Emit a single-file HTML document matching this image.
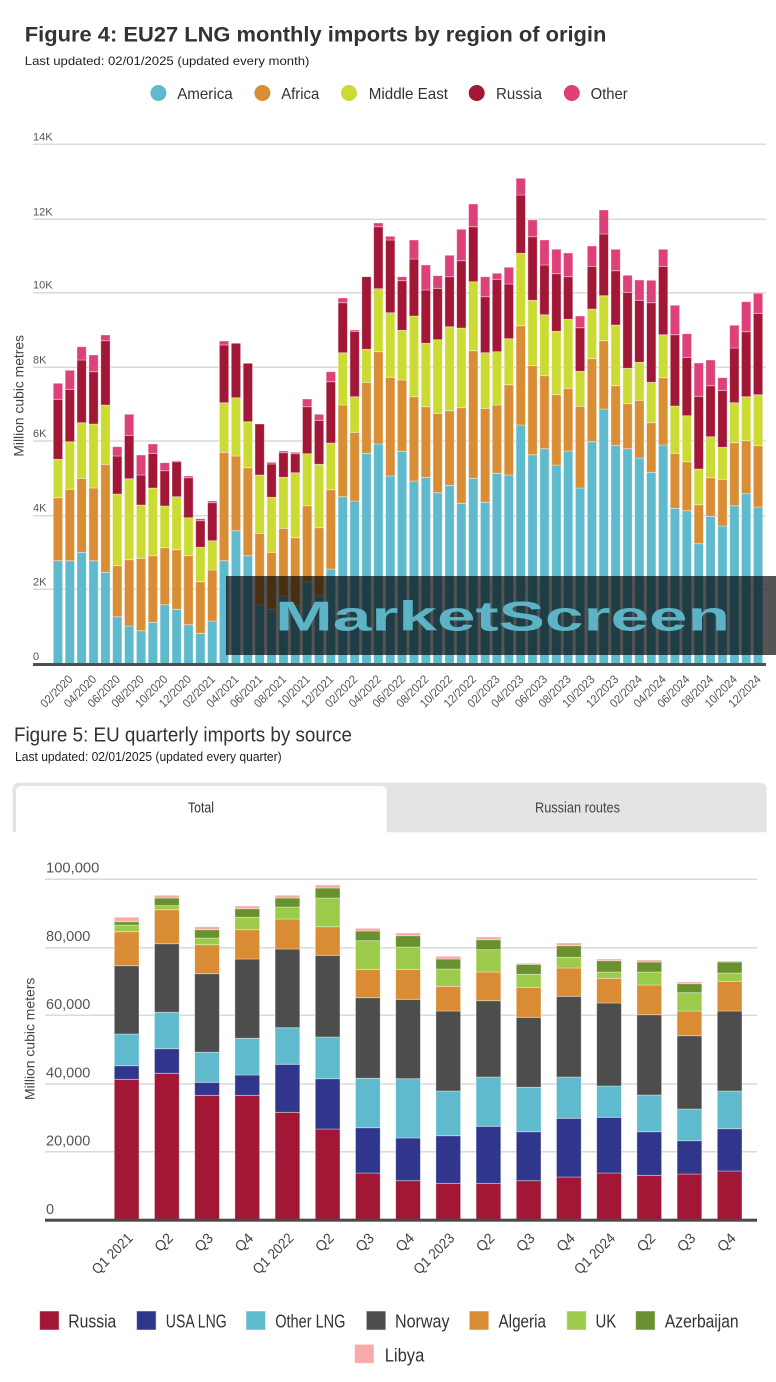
<!DOCTYPE html>
<html>
<head>
<meta charset="utf-8">
<style>
html,body{margin:0;padding:0;background:#fff;}
svg{display:block;}
text{font-family:"Liberation Sans",Arial,sans-serif;}
.yl{font-size:11px;fill:#555;}
.xl{font-size:12px;fill:#555;text-anchor:end;}
.yl2{font-size:14.5px;fill:#555;}
.xl2{font-size:14.5px;fill:#444;text-anchor:end;}
.lg{font-size:16px;fill:#333;}
.lg2{font-size:18px;fill:#333;}
.bars path{stroke:#fff;stroke-opacity:.45;stroke-width:.8;}
</style>
</head>
<body>
<svg width="776" height="1382" viewBox="0 0 776 1382" xmlns="http://www.w3.org/2000/svg">
<rect x="0" y="0" width="776" height="1382" fill="#fff"/>

<!-- ===== FIGURE 4 ===== -->
<text x="24.8" y="41.7" font-size="21.5" font-weight="bold" fill="#333" textLength="581.6" lengthAdjust="spacingAndGlyphs">Figure 4: EU27 LNG monthly imports by region of origin</text>
<text x="24.8" y="65" font-size="12" fill="#222" textLength="284.6" lengthAdjust="spacingAndGlyphs">Last updated: 02/01/2025 (updated every month)</text>

<!-- legend -->
<circle cx="158.4" cy="93" r="8" fill="#60bacd"/>
<text class="lg" x="177.2" y="99" textLength="55.5" lengthAdjust="spacingAndGlyphs">America</text>
<circle cx="262.4" cy="93" r="8" fill="#d98e35"/>
<text class="lg" x="281.2" y="99" textLength="38.1" lengthAdjust="spacingAndGlyphs">Africa</text>
<circle cx="349" cy="93" r="8" fill="#cbdb34"/>
<text class="lg" x="368.8" y="99" textLength="79.2" lengthAdjust="spacingAndGlyphs">Middle East</text>
<circle cx="476.7" cy="93" r="8" fill="#a21736"/>
<text class="lg" x="496" y="99" textLength="46" lengthAdjust="spacingAndGlyphs">Russia</text>
<circle cx="571.8" cy="93" r="8" fill="#de4079"/>
<text class="lg" x="590.6" y="99" textLength="37.1" lengthAdjust="spacingAndGlyphs">Other</text>

<!-- gridlines -->
<g stroke="#dadada" stroke-width="1.5">
<line x1="33" x2="766" y1="144.3" y2="144.3"/>
<line x1="33" x2="766" y1="219.3" y2="219.3"/>
<line x1="33" x2="766" y1="292.7" y2="292.7"/>
<line x1="33" x2="766" y1="367.3" y2="367.3"/>
<line x1="33" x2="766" y1="441" y2="441"/>
<line x1="33" x2="766" y1="515.7" y2="515.7"/>
<line x1="33" x2="766" y1="589.3" y2="589.3"/>
</g>
<text class="yl" x="33" y="140.3">14K</text>
<text class="yl" x="33" y="215.3">12K</text>
<text class="yl" x="33" y="288.7">10K</text>
<text class="yl" x="33" y="363.3">8K</text>
<text class="yl" x="33" y="437">6K</text>
<text class="yl" x="33" y="511.7">4K</text>
<text class="yl" x="33" y="585.3">2K</text>
<text class="yl" x="33" y="660">0</text>
<text transform="rotate(-90 23.3 395.8)" x="23.3" y="395.8" font-size="14" fill="#444" text-anchor="middle" textLength="121.7" lengthAdjust="spacingAndGlyphs">Million cubic metres</text>

<g class="bars">
<!-- America -->
<path fill="#60bacd" d="M53.3 560.7h9.3V664h-9.3zM65.2 560.7h9.3V664h-9.3zM77 552.3h9.3V664h-9.3zM88.9 560.7h9.3V664h-9.3zM100.8 572.3h9.3V664h-9.3zM112.6 616.7h9.3V664h-9.3zM124.5 626h9.3V664h-9.3zM136.4 630.7h9.3V664h-9.3zM148.2 622.3h9.3V664h-9.3zM160.1 604.7h9.3V664h-9.3zM172 609.3h9.3V664h-9.3zM183.8 624.7h9.3V664h-9.3zM195.7 633.3h9.3V664h-9.3zM207.6 621h9.3V664h-9.3zM219.4 560.7h9.3V664h-9.3zM231.3 530.7h9.3V664h-9.3zM243.2 555.7h9.3V664h-9.3zM255 605h9.3V664h-9.3zM266.9 609.3h9.3V664h-9.3zM278.8 596h9.3V664h-9.3zM290.6 605.7h9.3V664h-9.3zM302.5 581.7h9.3V664h-9.3zM314.4 596h9.3V664h-9.3zM326.2 569h9.3V664h-9.3zM338.1 496.7h9.3V664h-9.3zM350 501h9.3V664h-9.3zM361.8 453.3h9.3V664h-9.3zM373.7 444h9.3V664h-9.3zM385.6 476h9.3V664h-9.3zM397.4 451.3h9.3V664h-9.3zM409.3 481h9.3V664h-9.3zM421.2 477.3h9.3V664h-9.3zM433 492.7h9.3V664h-9.3zM444.9 485.3h9.3V664h-9.3zM456.7 503.3h9.3V664h-9.3zM468.6 478.3h9.3V664h-9.3zM480.5 502.3h9.3V664h-9.3zM492.3 473.3h9.3V664h-9.3zM504.2 475h9.3V664h-9.3zM516.1 425h9.3V664h-9.3zM527.9 454.7h9.3V664h-9.3zM539.8 448.7h9.3V664h-9.3zM551.7 465h9.3V664h-9.3zM563.5 451h9.3V664h-9.3zM575.4 488h9.3V664h-9.3zM587.3 441.7h9.3V664h-9.3zM599.1 409h9.3V664h-9.3zM611 445.3h9.3V664h-9.3zM622.9 448.7h9.3V664h-9.3zM634.7 458h9.3V664h-9.3zM646.6 472.3h9.3V664h-9.3zM658.5 445h9.3V664h-9.3zM670.3 508.3h9.3V664h-9.3zM682.2 510.7h9.3V664h-9.3zM694.1 543.7h9.3V664h-9.3zM705.9 516.3h9.3V664h-9.3zM717.8 526h9.3V664h-9.3zM729.7 505.7h9.3V664h-9.3zM741.5 493.7h9.3V664h-9.3zM753.4 507h9.3V664h-9.3z"/>
<!-- Africa -->
<path fill="#d98e35" d="M53.3 497.7h9.3V560.7h-9.3zM65.2 489.3h9.3V560.7h-9.3zM77 478.3h9.3V552.3h-9.3zM88.9 488h9.3V560.7h-9.3zM100.8 464.3h9.3V572.3h-9.3zM112.6 565.7h9.3V616.7h-9.3zM124.5 559.7h9.3V626h-9.3zM136.4 558.3h9.3V630.7h-9.3zM148.2 555.7h9.3V622.3h-9.3zM160.1 547.7h9.3V604.7h-9.3zM172 549.7h9.3V609.3h-9.3zM183.8 555.7h9.3V624.7h-9.3zM195.7 581.7h9.3V633.3h-9.3zM207.6 570h9.3V621h-9.3zM219.4 452.3h9.3V560.7h-9.3zM231.3 456h9.3V530.7h-9.3zM243.2 467.7h9.3V555.7h-9.3zM255 533.3h9.3V605h-9.3zM266.9 552.3h9.3V609.3h-9.3zM278.8 528.3h9.3V596h-9.3zM290.6 537.7h9.3V605.7h-9.3zM302.5 505.7h9.3V581.7h-9.3zM314.4 527.7h9.3V596h-9.3zM326.2 489.7h9.3V569h-9.3zM338.1 405h9.3V496.7h-9.3zM350 432.3h9.3V501h-9.3zM361.8 382.3h9.3V453.3h-9.3zM373.7 351.7h9.3V444h-9.3zM385.6 377.3h9.3V476h-9.3zM397.4 380h9.3V451.3h-9.3zM409.3 396.7h9.3V481h-9.3zM421.2 406.7h9.3V477.3h-9.3zM433 413.3h9.3V492.7h-9.3zM444.9 410.7h9.3V485.3h-9.3zM456.7 407.7h9.3V503.3h-9.3zM468.6 350.7h9.3V478.3h-9.3zM480.5 408.3h9.3V502.3h-9.3zM492.3 405h9.3V473.3h-9.3zM504.2 384.7h9.3V475h-9.3zM516.1 325.7h9.3V425h-9.3zM527.9 365.7h9.3V454.7h-9.3zM539.8 375.7h9.3V448.7h-9.3zM551.7 394.7h9.3V465h-9.3zM563.5 388.3h9.3V451h-9.3zM575.4 406.3h9.3V488h-9.3zM587.3 358.7h9.3V441.7h-9.3zM599.1 340.7h9.3V409h-9.3zM611 385.7h9.3V445.3h-9.3zM622.9 403.7h9.3V448.7h-9.3zM634.7 400.3h9.3V458h-9.3zM646.6 422.7h9.3V472.3h-9.3zM658.5 377.7h9.3V445h-9.3zM670.3 453.3h9.3V508.3h-9.3zM682.2 461.7h9.3V510.7h-9.3zM694.1 504.7h9.3V543.7h-9.3zM705.9 477.7h9.3V516.3h-9.3zM717.8 479.3h9.3V526h-9.3zM729.7 442.7h9.3V505.7h-9.3zM741.5 440.7h9.3V493.7h-9.3zM753.4 445.7h9.3V507h-9.3z"/>
<!-- Middle East -->
<path fill="#cbdb34" d="M53.3 459.3h9.3V497.7h-9.3zM65.2 441.7h9.3V489.3h-9.3zM77 422.7h9.3V478.3h-9.3zM88.9 424h9.3V488h-9.3zM100.8 405h9.3V464.3h-9.3zM112.6 494h9.3V565.7h-9.3zM124.5 478.7h9.3V559.7h-9.3zM136.4 505h9.3V558.3h-9.3zM148.2 488h9.3V555.7h-9.3zM160.1 506h9.3V547.7h-9.3zM172 496.7h9.3V549.7h-9.3zM183.8 517.7h9.3V555.7h-9.3zM195.7 547.3h9.3V581.7h-9.3zM207.6 540.7h9.3V570h-9.3zM219.4 402.7h9.3V452.3h-9.3zM231.3 397.7h9.3V456h-9.3zM243.2 421.7h9.3V467.7h-9.3zM255 475h9.3V533.3h-9.3zM266.9 497.3h9.3V552.3h-9.3zM278.8 477.3h9.3V528.3h-9.3zM290.6 472.7h9.3V537.7h-9.3zM302.5 453.7h9.3V505.7h-9.3zM314.4 464.3h9.3V527.7h-9.3zM326.2 443h9.3V489.7h-9.3zM338.1 352.7h9.3V405h-9.3zM350 396.7h9.3V432.3h-9.3zM361.8 349.3h9.3V382.3h-9.3zM373.7 288.7h9.3V351.7h-9.3zM385.6 312.7h9.3V377.3h-9.3zM397.4 330.3h9.3V380h-9.3zM409.3 316h9.3V396.7h-9.3zM421.2 343.3h9.3V406.7h-9.3zM433 339.7h9.3V413.3h-9.3zM444.9 326.7h9.3V410.7h-9.3zM456.7 328h9.3V407.7h-9.3zM468.6 281.7h9.3V350.7h-9.3zM480.5 352.7h9.3V408.3h-9.3zM492.3 351.7h9.3V405h-9.3zM504.2 338.7h9.3V384.7h-9.3zM516.1 253.3h9.3V325.7h-9.3zM527.9 300.3h9.3V365.7h-9.3zM539.8 314.7h9.3V375.7h-9.3zM551.7 331.3h9.3V394.7h-9.3zM563.5 319.3h9.3V388.3h-9.3zM575.4 371.3h9.3V406.3h-9.3zM587.3 309h9.3V358.7h-9.3zM599.1 295.7h9.3V340.7h-9.3zM611 325h9.3V385.7h-9.3zM622.9 368.3h9.3V403.7h-9.3zM634.7 362.3h9.3V400.3h-9.3zM646.6 382.3h9.3V422.7h-9.3zM658.5 334.7h9.3V377.7h-9.3zM670.3 406h9.3V453.3h-9.3zM682.2 415.7h9.3V461.7h-9.3zM694.1 469h9.3V504.7h-9.3zM705.9 436.7h9.3V477.7h-9.3zM717.8 447.3h9.3V479.3h-9.3zM729.7 402.7h9.3V442.7h-9.3zM741.5 396.7h9.3V440.7h-9.3zM753.4 394.7h9.3V445.7h-9.3z"/>
<!-- Russia -->
<path fill="#a21736" d="M53.3 399.3h9.3V459.3h-9.3zM65.2 389.3h9.3V441.7h-9.3zM77 360h9.3V422.7h-9.3zM88.9 371.7h9.3V424h-9.3zM100.8 340.7h9.3V405h-9.3zM112.6 456h9.3V494h-9.3zM124.5 435.3h9.3V478.7h-9.3zM136.4 475h9.3V505h-9.3zM148.2 453.3h9.3V488h-9.3zM160.1 470.7h9.3V506h-9.3zM172 461.7h9.3V496.7h-9.3zM183.8 477.7h9.3V517.7h-9.3zM195.7 520.7h9.3V547.3h-9.3zM207.6 502.7h9.3V540.7h-9.3zM219.4 345h9.3V402.7h-9.3zM231.3 343.3h9.3V397.7h-9.3zM243.2 363.3h9.3V421.7h-9.3zM255 424h9.3V475h-9.3zM266.9 464h9.3V497.3h-9.3zM278.8 452.7h9.3V477.3h-9.3zM290.6 453.7h9.3V472.7h-9.3zM302.5 406.7h9.3V453.7h-9.3zM314.4 420.3h9.3V464.3h-9.3zM326.2 381.7h9.3V443h-9.3zM338.1 302.7h9.3V352.7h-9.3zM350 331.3h9.3V396.7h-9.3zM361.8 276.7h9.3V349.3h-9.3zM373.7 226.7h9.3V288.7h-9.3zM385.6 240h9.3V312.7h-9.3zM397.4 280.7h9.3V330.3h-9.3zM409.3 259h9.3V316h-9.3zM421.2 290h9.3V343.3h-9.3zM433 288.3h9.3V339.7h-9.3zM444.9 276.7h9.3V326.7h-9.3zM456.7 260.7h9.3V328h-9.3zM468.6 226.7h9.3V281.7h-9.3zM480.5 296.7h9.3V352.7h-9.3zM492.3 279.3h9.3V351.7h-9.3zM504.2 284h9.3V338.7h-9.3zM516.1 195h9.3V253.3h-9.3zM527.9 236.7h9.3V300.3h-9.3zM539.8 265h9.3V314.7h-9.3zM551.7 273.7h9.3V331.3h-9.3zM563.5 276.7h9.3V319.3h-9.3zM575.4 327.7h9.3V371.3h-9.3zM587.3 266.3h9.3V309h-9.3zM599.1 234h9.3V295.7h-9.3zM611 270.7h9.3V325h-9.3zM622.9 292.3h9.3V368.3h-9.3zM634.7 300.3h9.3V362.3h-9.3zM646.6 302.7h9.3V382.3h-9.3zM658.5 266.3h9.3V334.7h-9.3zM670.3 334.7h9.3V406h-9.3zM682.2 357.3h9.3V415.7h-9.3zM694.1 396.3h9.3V469h-9.3zM705.9 385.7h9.3V436.7h-9.3zM717.8 390.3h9.3V447.3h-9.3zM729.7 348h9.3V402.7h-9.3zM741.5 331.7h9.3V396.7h-9.3zM753.4 313.3h9.3V394.7h-9.3z"/>
<!-- Other -->
<path fill="#de4079" d="M53.3 383.3h9.3V399.3h-9.3zM65.2 370.3h9.3V389.3h-9.3zM77 346.7h9.3V360h-9.3zM88.9 355h9.3V371.7h-9.3zM100.8 335h9.3V340.7h-9.3zM112.6 446.7h9.3V456h-9.3zM124.5 414.3h9.3V435.3h-9.3zM136.4 455h9.3V475h-9.3zM148.2 444h9.3V453.3h-9.3zM160.1 462.7h9.3V470.7h-9.3zM172 460.7h9.3V461.7h-9.3zM183.8 476h9.3V477.7h-9.3zM195.7 518.7h9.3V520.7h-9.3zM207.6 501h9.3V502.7h-9.3zM219.4 341h9.3V345h-9.3zM266.9 462.3h9.3V464h-9.3zM278.8 451h9.3V452.7h-9.3zM290.6 452.3h9.3V453.7h-9.3zM302.5 399h9.3V406.7h-9.3zM314.4 414.3h9.3V420.3h-9.3zM326.2 371.7h9.3V381.7h-9.3zM338.1 298h9.3V302.7h-9.3zM350 330h9.3V331.3h-9.3zM373.7 223h9.3V226.7h-9.3zM385.6 236.3h9.3V240h-9.3zM397.4 276.7h9.3V280.7h-9.3zM409.3 240h9.3V259h-9.3zM421.2 265h9.3V290h-9.3zM433 275.7h9.3V288.3h-9.3zM444.9 255.3h9.3V276.7h-9.3zM456.7 229.3h9.3V260.7h-9.3zM468.6 204h9.3V226.7h-9.3zM480.5 276.7h9.3V296.7h-9.3zM492.3 273.3h9.3V279.3h-9.3zM504.2 267.3h9.3V284h-9.3zM516.1 178.3h9.3V195h-9.3zM527.9 220h9.3V236.7h-9.3zM539.8 240h9.3V265h-9.3zM551.7 249.3h9.3V273.7h-9.3zM563.5 253h9.3V276.7h-9.3zM575.4 316h9.3V327.7h-9.3zM587.3 246h9.3V266.3h-9.3zM599.1 210h9.3V234h-9.3zM611 249.3h9.3V270.7h-9.3zM622.9 275.3h9.3V292.3h-9.3zM634.7 280h9.3V300.3h-9.3zM646.6 280.3h9.3V302.7h-9.3zM658.5 249.3h9.3V266.3h-9.3zM670.3 305.3h9.3V334.7h-9.3zM682.2 333.7h9.3V357.3h-9.3zM694.1 363h9.3V396.3h-9.3zM705.9 360h9.3V385.7h-9.3zM717.8 377.7h9.3V390.3h-9.3zM729.7 325.3h9.3V348h-9.3zM741.5 301.7h9.3V331.7h-9.3zM753.4 293.3h9.3V313.3h-9.3z"/>
</g>

<!-- axis -->
<rect x="33" y="663" width="733" height="3" fill="#505050"/>

<!-- x labels -->
<g>
<text class="xl" transform="rotate(-45 73.4 680)" x="73.4" y="680" textLength="40" lengthAdjust="spacingAndGlyphs">02/2020</text>
<text class="xl" transform="rotate(-45 97.1 680)" x="97.1" y="680" textLength="40" lengthAdjust="spacingAndGlyphs">04/2020</text>
<text class="xl" transform="rotate(-45 120.8 680)" x="120.8" y="680" textLength="40" lengthAdjust="spacingAndGlyphs">06/2020</text>
<text class="xl" transform="rotate(-45 144.6 680)" x="144.6" y="680" textLength="40" lengthAdjust="spacingAndGlyphs">08/2020</text>
<text class="xl" transform="rotate(-45 168.3 680)" x="168.3" y="680" textLength="40" lengthAdjust="spacingAndGlyphs">10/2020</text>
<text class="xl" transform="rotate(-45 192 680)" x="192" y="680" textLength="40" lengthAdjust="spacingAndGlyphs">12/2020</text>
<text class="xl" transform="rotate(-45 215.8 680)" x="215.8" y="680" textLength="40" lengthAdjust="spacingAndGlyphs">02/2021</text>
<text class="xl" transform="rotate(-45 239.5 680)" x="239.5" y="680" textLength="40" lengthAdjust="spacingAndGlyphs">04/2021</text>
<text class="xl" transform="rotate(-45 263.2 680)" x="263.2" y="680" textLength="40" lengthAdjust="spacingAndGlyphs">06/2021</text>
<text class="xl" transform="rotate(-45 287 680)" x="287" y="680" textLength="40" lengthAdjust="spacingAndGlyphs">08/2021</text>
<text class="xl" transform="rotate(-45 310.7 680)" x="310.7" y="680" textLength="40" lengthAdjust="spacingAndGlyphs">10/2021</text>
<text class="xl" transform="rotate(-45 334.4 680)" x="334.4" y="680" textLength="40" lengthAdjust="spacingAndGlyphs">12/2021</text>
<text class="xl" transform="rotate(-45 358.2 680)" x="358.2" y="680" textLength="40" lengthAdjust="spacingAndGlyphs">02/2022</text>
<text class="xl" transform="rotate(-45 381.9 680)" x="381.9" y="680" textLength="40" lengthAdjust="spacingAndGlyphs">04/2022</text>
<text class="xl" transform="rotate(-45 405.6 680)" x="405.6" y="680" textLength="40" lengthAdjust="spacingAndGlyphs">06/2022</text>
<text class="xl" transform="rotate(-45 429.4 680)" x="429.4" y="680" textLength="40" lengthAdjust="spacingAndGlyphs">08/2022</text>
<text class="xl" transform="rotate(-45 453.1 680)" x="453.1" y="680" textLength="40" lengthAdjust="spacingAndGlyphs">10/2022</text>
<text class="xl" transform="rotate(-45 476.8 680)" x="476.8" y="680" textLength="40" lengthAdjust="spacingAndGlyphs">12/2022</text>
<text class="xl" transform="rotate(-45 500.5 680)" x="500.5" y="680" textLength="40" lengthAdjust="spacingAndGlyphs">02/2023</text>
<text class="xl" transform="rotate(-45 524.3 680)" x="524.3" y="680" textLength="40" lengthAdjust="spacingAndGlyphs">04/2023</text>
<text class="xl" transform="rotate(-45 548 680)" x="548" y="680" textLength="40" lengthAdjust="spacingAndGlyphs">06/2023</text>
<text class="xl" transform="rotate(-45 571.7 680)" x="571.7" y="680" textLength="40" lengthAdjust="spacingAndGlyphs">08/2023</text>
<text class="xl" transform="rotate(-45 595.5 680)" x="595.5" y="680" textLength="40" lengthAdjust="spacingAndGlyphs">10/2023</text>
<text class="xl" transform="rotate(-45 619.2 680)" x="619.2" y="680" textLength="40" lengthAdjust="spacingAndGlyphs">12/2023</text>
<text class="xl" transform="rotate(-45 642.9 680)" x="642.9" y="680" textLength="40" lengthAdjust="spacingAndGlyphs">02/2024</text>
<text class="xl" transform="rotate(-45 666.7 680)" x="666.7" y="680" textLength="40" lengthAdjust="spacingAndGlyphs">04/2024</text>
<text class="xl" transform="rotate(-45 690.4 680)" x="690.4" y="680" textLength="40" lengthAdjust="spacingAndGlyphs">06/2024</text>
<text class="xl" transform="rotate(-45 714.1 680)" x="714.1" y="680" textLength="40" lengthAdjust="spacingAndGlyphs">08/2024</text>
<text class="xl" transform="rotate(-45 737.9 680)" x="737.9" y="680" textLength="40" lengthAdjust="spacingAndGlyphs">10/2024</text>
<text class="xl" transform="rotate(-45 761.6 680)" x="761.6" y="680" textLength="40" lengthAdjust="spacingAndGlyphs">12/2024</text>
</g>

<!-- watermark -->
<rect x="226" y="576" width="560" height="79" fill="#000" fill-opacity="0.67"/>
<text x="275" y="630.7" font-family="'DejaVu Sans','Liberation Sans',sans-serif" font-weight="bold" font-size="42" fill="#62bdd0" fill-opacity="0.92" textLength="455" lengthAdjust="spacingAndGlyphs">MarketScreen</text>

<!-- ===== FIGURE 5 ===== -->
<text x="14" y="741.7" font-size="20" fill="#333" textLength="338" lengthAdjust="spacingAndGlyphs">Figure 5: EU quarterly imports by source</text>
<text x="15" y="761" font-size="13" fill="#222" textLength="266.7" lengthAdjust="spacingAndGlyphs">Last updated: 02/01/2025 (updated every quarter)</text>

<!-- tabs -->
<path d="M12.5 832.3V788.7a6 6 0 0 1 6-6H760.7a6 6 0 0 1 6 6V832.3z" fill="#e4e4e4"/>
<path d="M16 832.3V791a5 5 0 0 1 5-5H381.7a5 5 0 0 1 5 5V832.3z" fill="#fff"/>
<text x="201" y="812.7" font-size="14.5" fill="#333" text-anchor="middle" textLength="26" lengthAdjust="spacingAndGlyphs">Total</text>
<text x="577.5" y="812.7" font-size="14.5" fill="#444" text-anchor="middle" textLength="85" lengthAdjust="spacingAndGlyphs">Russian routes</text>

<!-- gridlines -->
<g stroke="#dadada" stroke-width="1.5">
<line x1="45" x2="757" y1="879.3" y2="879.3"/>
<line x1="45" x2="757" y1="947.7" y2="947.7"/>
<line x1="45" x2="757" y1="1015.3" y2="1015.3"/>
<line x1="45" x2="757" y1="1084" y2="1084"/>
<line x1="45" x2="757" y1="1151.7" y2="1151.7"/>
</g>
<text class="yl2" x="46" y="872.7" textLength="53.3" lengthAdjust="spacingAndGlyphs">100,000</text>
<text class="yl2" x="46" y="941">80,000</text>
<text class="yl2" x="46" y="1009">60,000</text>
<text class="yl2" x="46" y="1077.5">40,000</text>
<text class="yl2" x="46" y="1145.5">20,000</text>
<text class="yl2" x="46" y="1214">0</text>
<text transform="rotate(-90 34.3 1038.8)" x="34.3" y="1038.8" font-size="14" fill="#444" text-anchor="middle" textLength="122.3" lengthAdjust="spacingAndGlyphs">Million cubic meters</text>

<g class="bars">
<!-- Russia -->
<path fill="#a21736" d="M114.3 1079.3h24.7V1220h-24.7zM154.5 1073.3h24.7V1220h-24.7zM194.7 1095.3h24.7V1220h-24.7zM234.9 1095.3h24.7V1220h-24.7zM275.1 1112.3h24.7V1220h-24.7zM315.3 1129h24.7V1220h-24.7zM355.5 1173h24.7V1220h-24.7zM395.7 1180.7h24.7V1220h-24.7zM435.9 1183.3h24.7V1220h-24.7zM476.1 1183.3h24.7V1220h-24.7zM516.3 1180.7h24.7V1220h-24.7zM556.5 1177h24.7V1220h-24.7zM596.7 1173h24.7V1220h-24.7zM636.9 1175.3h24.7V1220h-24.7zM677.1 1174h24.7V1220h-24.7zM717.3 1171h24.7V1220h-24.7z"/>
<!-- USA LNG -->
<path fill="#2f368b" d="M114.3 1065.7h24.7V1079.3h-24.7zM154.5 1048.7h24.7V1073.3h-24.7zM194.7 1082.3h24.7V1095.3h-24.7zM234.9 1075h24.7V1095.3h-24.7zM275.1 1064.3h24.7V1112.3h-24.7zM315.3 1078.7h24.7V1129h-24.7zM355.5 1127.7h24.7V1173h-24.7zM395.7 1138h24.7V1180.7h-24.7zM435.9 1135.7h24.7V1183.3h-24.7zM476.1 1126.3h24.7V1183.3h-24.7zM516.3 1131.7h24.7V1180.7h-24.7zM556.5 1118.3h24.7V1177h-24.7zM596.7 1117.3h24.7V1173h-24.7zM636.9 1131.7h24.7V1175.3h-24.7zM677.1 1140.7h24.7V1174h-24.7zM717.3 1128.7h24.7V1171h-24.7z"/>
<!-- Other LNG -->
<path fill="#60bacd" d="M114.3 1034h24.7V1065.7h-24.7zM154.5 1012.3h24.7V1048.7h-24.7zM194.7 1052.3h24.7V1082.3h-24.7zM234.9 1038.3h24.7V1075h-24.7zM275.1 1027.7h24.7V1064.3h-24.7zM315.3 1037h24.7V1078.7h-24.7zM355.5 1078.3h24.7V1127.7h-24.7zM395.7 1078.7h24.7V1138h-24.7zM435.9 1091h24.7V1135.7h-24.7zM476.1 1077h24.7V1126.3h-24.7zM516.3 1087.3h24.7V1131.7h-24.7zM556.5 1077h24.7V1118.3h-24.7zM596.7 1086h24.7V1117.3h-24.7zM636.9 1095h24.7V1131.7h-24.7zM677.1 1109h24.7V1140.7h-24.7zM717.3 1091h24.7V1128.7h-24.7z"/>
<!-- Norway -->
<path fill="#4d4d4d" d="M114.3 965.7h24.7V1034h-24.7zM154.5 943.7h24.7V1012.3h-24.7zM194.7 973.7h24.7V1052.3h-24.7zM234.9 959h24.7V1038.3h-24.7zM275.1 949h24.7V1027.7h-24.7zM315.3 955.3h24.7V1037h-24.7zM355.5 997.7h24.7V1078.3h-24.7zM395.7 999.3h24.7V1078.7h-24.7zM435.9 1011h24.7V1091h-24.7zM476.1 1000.7h24.7V1077h-24.7zM516.3 1017.3h24.7V1087.3h-24.7zM556.5 996.3h24.7V1077h-24.7zM596.7 1003h24.7V1086h-24.7zM636.9 1014.7h24.7V1095h-24.7zM677.1 1035.7h24.7V1109h-24.7zM717.3 1011h24.7V1091h-24.7z"/>
<!-- Algeria -->
<path fill="#d98c33" d="M114.3 931.7h24.7V965.7h-24.7zM154.5 909.7h24.7V943.7h-24.7zM194.7 944.7h24.7V973.7h-24.7zM234.9 929.7h24.7V959h-24.7zM275.1 919h24.7V949h-24.7zM315.3 926.7h24.7V955.3h-24.7zM355.5 969.3h24.7V997.7h-24.7zM395.7 969.3h24.7V999.3h-24.7zM435.9 986.3h24.7V1011h-24.7zM476.1 972h24.7V1000.7h-24.7zM516.3 987.3h24.7V1017.3h-24.7zM556.5 968h24.7V996.3h-24.7zM596.7 978.3h24.7V1003h-24.7zM636.9 985h24.7V1014.7h-24.7zM677.1 1011h24.7V1035.7h-24.7zM717.3 981.3h24.7V1011h-24.7z"/>
<!-- UK -->
<path fill="#9ccb4b" d="M114.3 925h24.7V931.7h-24.7zM154.5 905.7h24.7V909.7h-24.7zM194.7 938h24.7V944.7h-24.7zM234.9 917.3h24.7V929.7h-24.7zM275.1 907h24.7V919h-24.7zM315.3 898h24.7V926.7h-24.7zM355.5 940.7h24.7V969.3h-24.7zM395.7 947h24.7V969.3h-24.7zM435.9 969h24.7V986.3h-24.7zM476.1 949.7h24.7V972h-24.7zM516.3 974.3h24.7V987.3h-24.7zM556.5 957.3h24.7V968h-24.7zM596.7 972h24.7V978.3h-24.7zM636.9 972h24.7V985h-24.7zM677.1 992.7h24.7V1011h-24.7zM717.3 973h24.7V981.3h-24.7z"/>
<!-- Azerbaijan -->
<path fill="#6a912f" d="M114.3 921.7h24.7V925h-24.7zM154.5 898h24.7V905.7h-24.7zM194.7 929.7h24.7V938h-24.7zM234.9 908.7h24.7V917.3h-24.7zM275.1 898h24.7V907h-24.7zM315.3 888h24.7V898h-24.7zM355.5 931h24.7V940.7h-24.7zM395.7 935.7h24.7V947h-24.7zM435.9 959h24.7V969h-24.7zM476.1 939.7h24.7V949.7h-24.7zM516.3 964.3h24.7V974.3h-24.7zM556.5 945.7h24.7V957.3h-24.7zM596.7 960.7h24.7V972h-24.7zM636.9 962h24.7V972h-24.7zM677.1 983.7h24.7V992.7h-24.7zM717.3 962h24.7V973h-24.7z"/>
<!-- Libya -->
<path fill="#f8a9a9" d="M114.3 917.3h24.7V921.7h-24.7zM154.5 895.3h24.7V898h-24.7zM194.7 926.7h24.7V929.7h-24.7zM234.9 906h24.7V908.7h-24.7zM275.1 895.3h24.7V898h-24.7zM315.3 885h24.7V888h-24.7zM355.5 928.3h24.7V931h-24.7zM395.7 933h24.7V935.7h-24.7zM435.9 956.3h24.7V959h-24.7zM476.1 937h24.7V939.7h-24.7zM516.3 963.3h24.7V964.3h-24.7zM556.5 943h24.7V945.7h-24.7zM596.7 959h24.7V960.7h-24.7zM636.9 960h24.7V962h-24.7zM677.1 982h24.7V983.7h-24.7zM717.3 961h24.7V962h-24.7z"/>
</g>

<rect x="45" y="1218.7" width="712" height="3" fill="#4a4a4a"/>

<!-- x labels fig 5 -->
<text class="xl2" transform="rotate(-45 133.7 1239)" x="133.7" y="1239" textLength="51" lengthAdjust="spacingAndGlyphs">Q1 2021</text>
<text class="xl2" transform="rotate(-45 173.9 1239)" x="173.9" y="1239">Q2</text>
<text class="xl2" transform="rotate(-45 214.1 1239)" x="214.1" y="1239">Q3</text>
<text class="xl2" transform="rotate(-45 254.3 1239)" x="254.3" y="1239">Q4</text>
<text class="xl2" transform="rotate(-45 294.5 1239)" x="294.5" y="1239" textLength="51" lengthAdjust="spacingAndGlyphs">Q1 2022</text>
<text class="xl2" transform="rotate(-45 334.7 1239)" x="334.7" y="1239">Q2</text>
<text class="xl2" transform="rotate(-45 374.9 1239)" x="374.9" y="1239">Q3</text>
<text class="xl2" transform="rotate(-45 415.1 1239)" x="415.1" y="1239">Q4</text>
<text class="xl2" transform="rotate(-45 455.3 1239)" x="455.3" y="1239" textLength="51" lengthAdjust="spacingAndGlyphs">Q1 2023</text>
<text class="xl2" transform="rotate(-45 495.5 1239)" x="495.5" y="1239">Q2</text>
<text class="xl2" transform="rotate(-45 535.7 1239)" x="535.7" y="1239">Q3</text>
<text class="xl2" transform="rotate(-45 575.9 1239)" x="575.9" y="1239">Q4</text>
<text class="xl2" transform="rotate(-45 616.1 1239)" x="616.1" y="1239" textLength="51" lengthAdjust="spacingAndGlyphs">Q1 2024</text>
<text class="xl2" transform="rotate(-45 656.3 1239)" x="656.3" y="1239">Q2</text>
<text class="xl2" transform="rotate(-45 696.5 1239)" x="696.5" y="1239">Q3</text>
<text class="xl2" transform="rotate(-45 736.7 1239)" x="736.7" y="1239">Q4</text>

<!-- legend fig 5 -->
<g stroke="#fff" stroke-opacity=".5" stroke-width="1">
<rect x="39.6" y="1311" width="19.5" height="19" fill="#a21736"/>
<rect x="136.6" y="1311" width="19.5" height="19" fill="#2f368b"/>
<rect x="246" y="1311" width="19.5" height="19" fill="#60bacd"/>
<rect x="366.3" y="1311" width="19.5" height="19" fill="#4d4d4d"/>
<rect x="469.3" y="1311" width="19.5" height="19" fill="#d98c33"/>
<rect x="566.8" y="1311" width="19.5" height="19" fill="#9ccb4b"/>
<rect x="635.6" y="1311" width="19.5" height="19" fill="#6a912f"/>
<rect x="354.5" y="1344.3" width="19.5" height="19" fill="#f8a9a9"/>
</g>
<text class="lg2" x="68.3" y="1327.3" textLength="48" lengthAdjust="spacingAndGlyphs">Russia</text>
<text class="lg2" x="165.8" y="1327.3" textLength="60.9" lengthAdjust="spacingAndGlyphs">USA LNG</text>
<text class="lg2" x="275.2" y="1327.3" textLength="70.3" lengthAdjust="spacingAndGlyphs">Other LNG</text>
<text class="lg2" x="395" y="1327.3" textLength="54.5" lengthAdjust="spacingAndGlyphs">Norway</text>
<text class="lg2" x="498.5" y="1327.3" textLength="47.5" lengthAdjust="spacingAndGlyphs">Algeria</text>
<text class="lg2" x="595.5" y="1327.3" textLength="20.8" lengthAdjust="spacingAndGlyphs">UK</text>
<text class="lg2" x="664.9" y="1327.3" textLength="73.7" lengthAdjust="spacingAndGlyphs">Azerbaijan</text>
<text class="lg2" x="384.7" y="1361.7" textLength="39.6" lengthAdjust="spacingAndGlyphs">Libya</text>
</svg>
</body>
</html>
